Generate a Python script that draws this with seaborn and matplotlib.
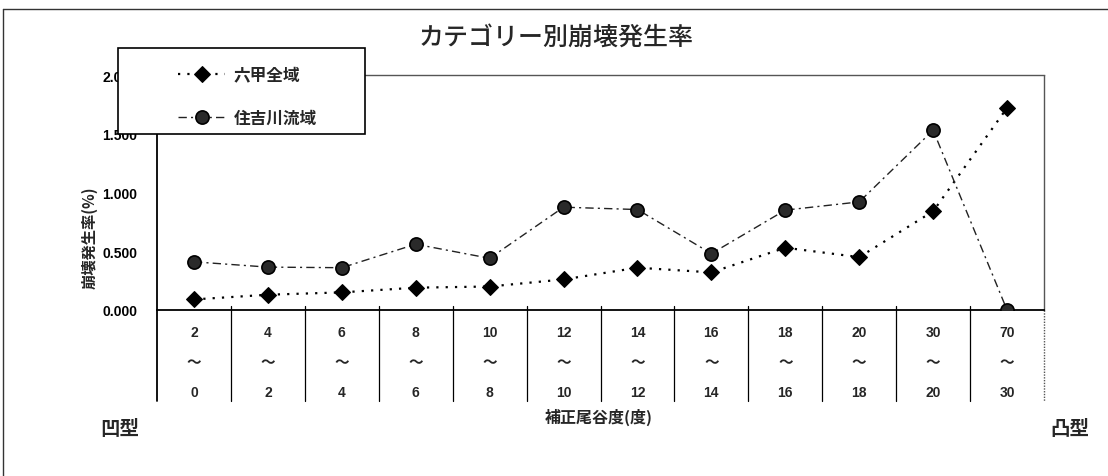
import matplotlib
matplotlib.use("Agg")
import matplotlib.pyplot as plt
from matplotlib.lines import Line2D
from matplotlib.patches import Rectangle
import numpy as np
import pandas as pd
import seaborn as sns

# --- data -------------------------------------------------------------
upper_bounds = ["2", "4", "6", "8", "10", "12", "14", "16", "18", "20", "30", "70"]
lower_bounds = ["0", "2", "4", "6", "8", "10", "12", "14", "16", "18", "20", "30"]
rokko_all = [0.09, 0.13, 0.15, 0.19, 0.20, 0.26, 0.36, 0.32, 0.53, 0.45, 0.84, 1.72]
sumiyoshi = [0.41, 0.365, 0.36, 0.56, 0.44, 0.875, 0.855, 0.48, 0.85, 0.92, 1.53, 0.0]
series_names = ["六甲全域", "住吉川流域"]
y_ticks = [0.0, 0.5, 1.0, 1.5, 2.0]

sns.set_style("white")
JP = "Noto Sans CJK JP"
plt.rcParams["font.family"] = ["Liberation Sans", JP, "DejaVu Sans"]

W, H = 1108, 477
fig = plt.figure(figsize=(W / 100, H / 100), dpi=100)


def fx(px):
    return px / W


def fy(py):
    return 1 - py / H


# plot area in pixel terms: x 157..1044, y 76..311
ax = fig.add_axes([fx(157), fy(311), fx(1044) - fx(157), fy(76) - fy(311)])

pos = np.arange(len(upper_bounds))
df = pd.DataFrame({"pos": pos, series_names[0]: rokko_all, series_names[1]: sumiyoshi})

sns.lineplot(data=df, x="pos", y=series_names[0], ax=ax, color="black",
             linestyle=(0, (1, 3.2)), linewidth=1.6, marker="D", markersize=8.5,
             markerfacecolor="black", markeredgecolor="black", zorder=3)
sns.lineplot(data=df, x="pos", y=series_names[1], ax=ax, color="#222222",
             linestyle=(0, (6, 3, 1.5, 3)), linewidth=1.0, marker="o", markersize=9.5,
             markerfacecolor="#2a2a2a", markeredgecolor="black", markeredgewidth=1.2,
             zorder=3)

ax.set_xlim(-0.5, len(pos) - 0.5)
ax.set_ylim(0, 2.0)
ax.set_xlabel("")
ax.set_ylabel("")
ax.set_xticks([])
ax.set_yticks(y_ticks)
ax.set_yticklabels([f"{v:.3f}" for v in y_ticks], fontsize=10, fontweight="bold")
ax.tick_params(axis="y", direction="in", length=3, width=0.8, pad=14, colors="black")

for side in ["top", "right"]:
    ax.spines[side].set_linestyle((0, (1, 1)))
    ax.spines[side].set_color("#555555")
    ax.spines[side].set_linewidth(1.0)
for side in ["left", "bottom"]:
    ax.spines[side].set_color("black")
    ax.spines[side].set_linewidth(1.3)

# category table under the axis
xt = ax.get_xaxis_transform()
table_bottom = -(402 - 311) / 235
ax.plot([-0.5, -0.5], [0, table_bottom], transform=xt, color="black", lw=1.3, clip_on=False)
for b in np.arange(0.5, len(pos) - 0.5, 1.0):
    ax.plot([b, b], [0.018, table_bottom], transform=xt, color="black", lw=0.9, clip_on=False)
ax.plot([len(pos) - 0.5] * 2, [0, table_bottom], transform=xt, color="#555555",
        lw=1.0, ls=(0, (1, 1)), clip_on=False)

row_y = [-(333 - 311) / 235, -(362 - 311) / 235, -(393 - 311) / 235]
for i, (hi, lo) in enumerate(zip(upper_bounds, lower_bounds)):
    ax.text(i, row_y[0], hi, transform=xt, ha="center", va="center",
            fontsize=10, fontweight="bold")
    ax.text(i, row_y[1], "～", transform=xt, ha="center", va="center",
            fontsize=10.5, fontweight="bold", family=[JP])
    ax.text(i, row_y[2], lo, transform=xt, ha="center", va="center",
            fontsize=10, fontweight="bold")

# titles and labels
fig.text(fx(556), fy(38), "カテゴリー別崩壊発生率", ha="center", va="center",
         fontsize=18, fontweight="medium", family=[JP])
fig.text(fx(90), fy(238), "崩壊発生率(%)", rotation=90, ha="center", va="center",
         fontsize=11, fontweight="bold", family=[JP])
fig.text(fx(599), fy(417), "補正尾谷度(度)", ha="center", va="center",
         fontsize=11.5, fontweight="bold", family=[JP])
fig.text(fx(120), fy(430), "凹型", ha="center", va="center",
         fontsize=14, fontweight="bold", family=[JP])
fig.text(fx(1070), fy(430), "凸型", ha="center", va="center",
         fontsize=14, fontweight="bold", family=[JP])

# outer frame (top and left edges)
fig.add_artist(Line2D([fx(3), fx(W)], [fy(10), fy(10)], color="#333333", lw=1.0))
fig.add_artist(Line2D([fx(3), fx(3)], [fy(10), fy(H)], color="#333333", lw=1.0))

# legend box
fig.patches.append(Rectangle((fx(118), fy(135)), fx(365) - fx(118), fy(49) - fy(135),
                             transform=fig.transFigure, facecolor="white",
                             edgecolor="black", lw=1.2, zorder=4))
handles = ax.get_lines()[:2]
leg = fig.legend(handles, series_names, loc="upper left",
                 bbox_to_anchor=(fx(165), fy(53)), frameon=False,
                 prop={"family": JP, "weight": "bold", "size": 12},
                 handlelength=2.8, handletextpad=0.5, labelspacing=1.5,
                 borderpad=0.3)
leg.set_zorder(5)

fig.savefig("out.png", dpi=100, facecolor="white")
